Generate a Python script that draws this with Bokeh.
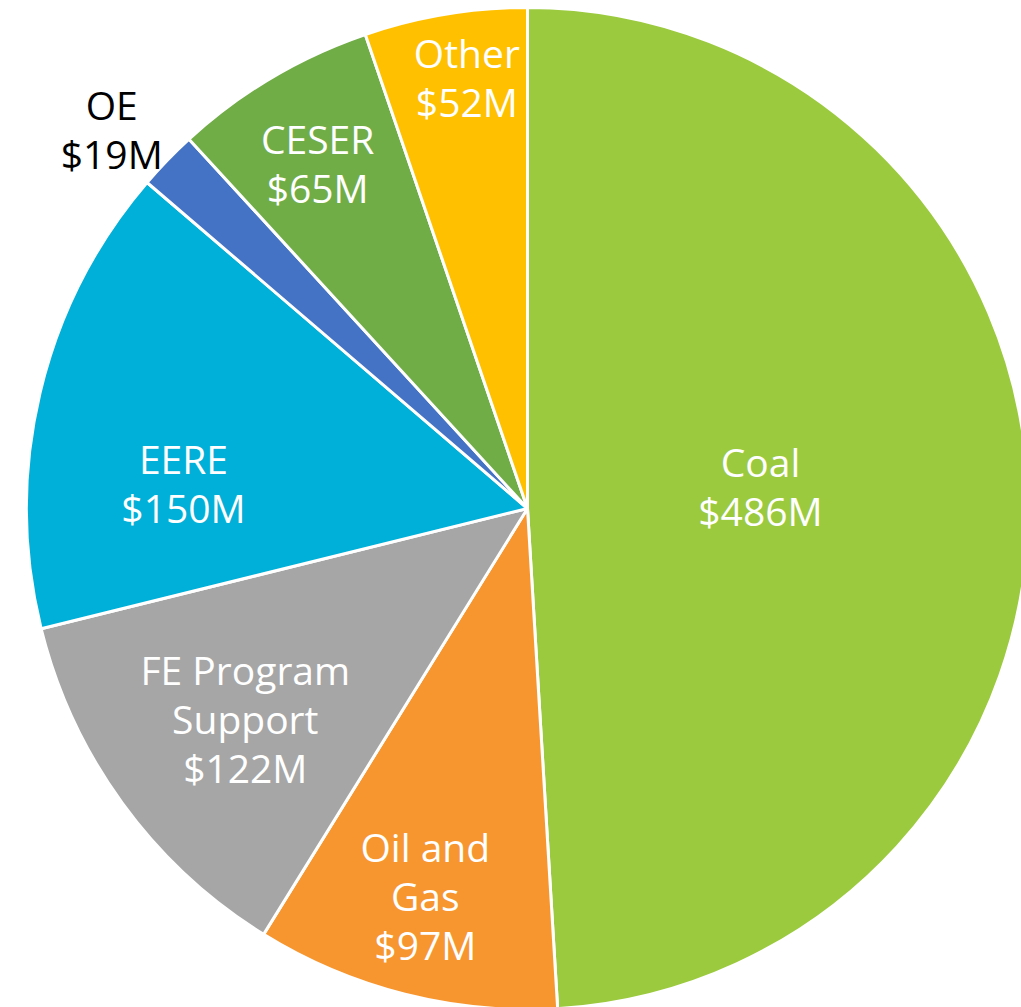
import math
from bokeh.plotting import figure
from bokeh.models import Range1d, ColumnDataSource
from bokeh.core.properties import value
from bokeh.embed import file_html
from bokeh.resources import INLINE

# ---- data ----
categories = ["Coal", "Oil and Gas", "FE Program Support", "EERE", "OE", "CESER", "Other"]
values_musd = [486, 97, 122, 150, 19, 65, 52]
label_lines = [["Coal", "$486M"], ["Oil and", "Gas", "$97M"], ["FE Program", "Support", "$122M"],
               ["EERE", "$150M"], ["OE", "$19M"], ["CESER", "$65M"], ["Other", "$52M"]]
colors = ["#9BCA3E", "#F7962F", "#A6A6A6", "#00B0D8", "#4472C4", "#70AD47", "#FFC000"]
label_colors = ["white", "white", "white", "white", "black", "white", "white"]

# ---- layout (label polar placement: radius px, angle deg clockwise from top) ----
label_r = [234, 400, 352, 345, 563, 404, 436]
label_theta = [84.6, 194.8, 233.3, 274.3, 312.4, 328.7, 352.0]

W, H = 1021, 1007
cx, cy, R = 527, 499, 501
FONT = "Open Sans"
FS = 39
LINE_H = 49

total = sum(values_musd)
starts, ends = [], []
acc = 0.0
for v in values_musd:
    a0 = math.pi / 2 - acc / total * 2 * math.pi
    acc += v
    a1 = math.pi / 2 - acc / total * 2 * math.pi
    starts.append(a0)
    ends.append(a1)

p = figure(width=W, height=H, x_range=Range1d(0, W), y_range=Range1d(0, H),
           output_backend="svg", toolbar_location=None, min_border=0,
           background_fill_color="white", border_fill_color="white")
p.outline_line_color = None
p.axis.visible = False
p.xgrid.visible = False
p.ygrid.visible = False

src = ColumnDataSource(dict(x=[cx] * len(values_musd), y=[cy] * len(values_musd),
                            start=starts, end=ends, color=colors, cat=categories))
p.wedge(x="x", y="y", radius=R, start_angle="start", end_angle="end", direction="clock",
        fill_color="color", line_color="white", line_width=3, source=src)

tx, ty, tt, tc = [], [], [], []
for lines, r, th, col in zip(label_lines, label_r, label_theta, label_colors):
    t = math.radians(th)
    bx = cx + r * math.sin(t)
    by = cy + r * math.cos(t)
    n = len(lines)
    for i, s in enumerate(lines):
        tx.append(bx)
        ty.append(by - (i - (n - 1) / 2) * LINE_H)
        tt.append(s)
        tc.append(col)

p.text(x=tx, y=ty, text=tt, text_color=tc, text_align="center", text_baseline="middle",
       text_font=value(FONT), text_font_size=f"{FS}px")

open("out.html", "w").write(file_html(p, INLINE))
